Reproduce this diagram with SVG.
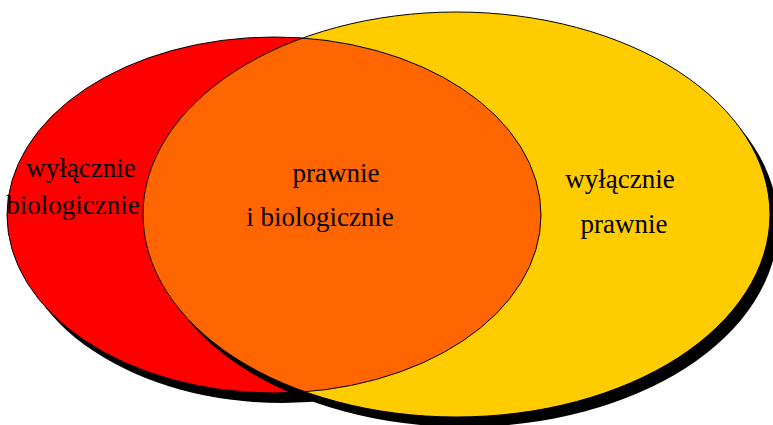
<svg xmlns="http://www.w3.org/2000/svg" width="773" height="425" viewBox="0 0 773 425">
<style>
.shadow{fill:#000}
.outline{fill:none;stroke:#000;stroke-width:1}
text{font-family:"Liberation Serif","Times New Roman",serif;font-size:27px;fill:#000;text-anchor:middle}
</style>
<defs>
<clipPath id="clipYellow"><ellipse cx="456.5" cy="214.5" rx="313.5" ry="202.5"/></clipPath>
</defs>
<rect width="773" height="425" fill="#fff"/>
<g id="set-biological">
<ellipse class="shadow" cx="282" cy="225" rx="267" ry="178"/>
<ellipse cx="274" cy="215" rx="267" ry="178" fill="#FF0000"/>
</g>
<g id="set-legal">
<ellipse class="shadow" cx="464.5" cy="224.5" rx="313.5" ry="202.5"/>
<ellipse cx="456.5" cy="214.5" rx="313.5" ry="202.5" fill="#FFCC00"/>
</g>
<g id="set-intersection">
<ellipse cx="274" cy="215" rx="267" ry="178" fill="#FF6600" clip-path="url(#clipYellow)"/>
</g>
<g id="connectors">
<ellipse class="outline" cx="274" cy="215" rx="267" ry="178"/>
<ellipse class="outline" cx="456.5" cy="214.5" rx="313.5" ry="202.5"/>
</g>
<g id="labels">
<text x="81" y="177">wyłącznie</text>
<text x="73" y="214">biologicznie</text>
<text x="336" y="182">prawnie</text>
<text x="320" y="226">i biologicznie</text>
<text x="620" y="188">wyłącznie</text>
<text x="624" y="233">prawnie</text>
</g>
</svg>
